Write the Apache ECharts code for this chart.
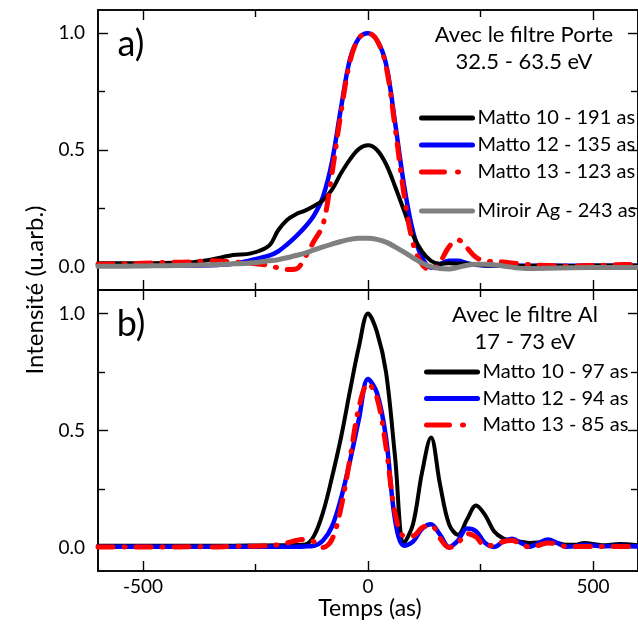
<!DOCTYPE html>
<html><head><meta charset="utf-8">
<script src="https://cdn.jsdelivr.net/npm/echarts@6/dist/echarts.min.js"></script>
<style>html,body{margin:0;padding:0;background:#fff}#c{width:638px;height:630px}</style>
</head><body><div id="c"></div>
<script>
// Panel a) time grid (as) and intensities
const tA = [-600,-550,-500,-450,-400,-350,-300,-260,-220,-200,-180,-160,-140,-120,-100,-80,-60,-40,-20,0,20,40,60,80,100,120,140,160,180,200,220,240,260,300,350,400,450,500,550,600];
const matto10A = [0.015,0.015,0.015,0.016,0.018,0.03,0.05,0.057,0.09,0.155,0.2,0.225,0.24,0.26,0.285,0.33,0.4,0.46,0.505,0.52,0.5,0.44,0.345,0.24,0.135,0.065,0.025,0.012,0.015,0.012,0.012,0.008,0.005,0.005,0.003,0.004,0.003,0.005,0.005,0.005];
const matto12A = [0.005,0.005,0.005,0.005,0.005,0.006,0.012,0.028,0.047,0.065,0.095,0.13,0.17,0.22,0.3,0.45,0.68,0.89,0.98,1.0,0.97,0.87,0.62,0.35,0.15,0.04,-0.005,0.01,0.025,0.025,0.015,0.008,0.005,0.005,0.004,0.004,0.004,0.004,0.004,0.004];
const matto13A = [0.01,0.012,0.015,0.018,0.02,0.025,0.02,0.015,0.005,-0.005,-0.012,-0.01,0.04,0.11,0.18,0.4,0.66,0.88,0.98,1.0,0.97,0.86,0.6,0.31,0.1,0.01,-0.015,0.02,0.085,0.115,0.08,0.04,0.025,0.02,0.01,0.005,0.003,0.005,0.008,0.01];
const miroirA = [0.002,0.002,0.003,0.004,0.006,0.008,0.012,0.016,0.025,0.03,0.038,0.048,0.058,0.072,0.085,0.097,0.108,0.117,0.122,0.122,0.117,0.105,0.085,0.062,0.038,0.016,0.0,-0.008,-0.01,-0.003,0.006,0.01,0.01,0.003,-0.008,-0.007,-0.005,-0.004,-0.004,-0.004];

// Panel b) time grid (as) and intensities
const tB = [-600,-550,-500,-450,-400,-350,-300,-250,-200,-180,-160,-140,-120,-100,-80,-60,-40,-20,0,20,40,60,80,100,120,140,160,180,200,220,240,260,280,300,320,340,360,380,400,420,440,460,480,520,560,600];
const matto10B = [0.008,0.008,0.008,0.008,0.008,0.008,0.008,0.009,0.01,0.01,0.011,0.013,0.05,0.15,0.3,0.47,0.67,0.86,1.0,0.92,0.75,0.39,0.02,0.1,0.32,0.47,0.27,0.1,0.055,0.12,0.18,0.14,0.07,0.04,0.03,0.025,0.02,0.022,0.025,0.02,0.012,0.012,0.02,0.01,0.015,0.01];
const matto12B = [0.004,0.004,0.004,0.004,0.004,0.004,0.004,0.004,0.004,0.004,0.004,0.005,0.008,0.03,0.09,0.21,0.37,0.55,0.72,0.66,0.47,0.12,0.008,0.025,0.08,0.1,0.055,0.003,0.03,0.082,0.07,0.02,0.003,0.025,0.038,0.02,0.004,0.02,0.034,0.02,0.004,0.006,0.012,0.006,0.008,0.005];
const matto13B = [0.002,0.003,0.002,0.002,0.004,0.003,0.005,0.006,0.012,0.02,0.03,0.035,0.025,0.0,0.035,0.17,0.38,0.6,0.7,0.64,0.43,0.15,0.05,0.05,0.085,0.095,0.04,0.0,0.02,0.06,0.045,0.008,0.01,0.025,0.03,0.015,0.002,0.01,0.02,0.015,0.005,0.005,0.005,0.005,0.005,0.005];

// Axis ticks / labels
const xMajor = [-500, 0, 500];
const xMinor = [-250, 250];
const yMajor = [0, 0.5, 1.0];
const yMinor = [0.25, 0.75];

const FONT = 'Lato';
const pair = (t, v) => t.map((x, i) => [x, v[i]]);

const grids = [
  {left: 98, top: 10, width: 542, height: 280},
  {left: 98, top: 290, width: 542, height: 281}
];
const AX = {lineStyle: {color: '#000', width: 1.6}};
const xAxes = [], yAxes = [];
grids.forEach((g, gi) => {
  [['bottom', xMajor, 10], ['bottom', xMinor, 7], ['top', xMajor, 10], ['top', xMinor, 7]].forEach(([pos, vals, len], k) => {
    xAxes.push({
      gridIndex: gi, type: 'value', min: -600, max: 600, position: pos,
      axisLine: {show: true, onZero: false, ...AX},
      axisTick: {show: true, inside: true, length: len, customValues: vals, lineStyle: {color: '#000', width: 1.4}},
      axisLabel: (gi === 1 && pos === 'bottom' && k === 0)
        ? {show: true, customValues: xMajor, fontFamily: FONT, fontSize: 19, color: '#000', margin: 6}
        : {show: false},
      splitLine: {show: false}
    });
  });
  [['left', yMajor, 10], ['left', yMinor, 7], ['right', yMajor, 10], ['right', yMinor, 7]].forEach(([pos, vals, len], k) => {
    yAxes.push({
      gridIndex: gi, type: 'value', min: -0.1, max: 1.1, position: pos,
      axisLine: {show: true, onZero: false, ...AX},
      axisTick: {show: true, inside: true, length: len, customValues: vals, lineStyle: {color: '#000', width: 1.4}},
      axisLabel: (pos === 'left' && k === 0)
        ? {show: true, customValues: yMajor, formatter: v => v.toFixed(1), fontFamily: FONT, fontSize: 19, color: '#000', margin: 13}
        : {show: false},
      splitLine: {show: false}
    });
  });
});

function line(name, gi, t, v, color, width, type, z) {
  return {
    name, type: 'line', xAxisIndex: gi * 4, yAxisIndex: gi * 4,
    data: pair(t, v), symbol: 'none', showSymbol: false, smooth: 0.35, z: z,
    lineStyle: {color, width, type: type || 'solid', cap: 'round', join: 'round'},
    itemStyle: {color}, emphasis: {disabled: true}
  };
}
const dashDot = [15, 11, 1, 11];
const legendDashDot = [23, 13, 1, 100];

const series = [
  line('Matto 12 - 135 as', 0, tA, matto12A, '#0000ff', 4.5, null, 2),
  line('Matto 10 - 191 as', 0, tA, matto10A, '#000000', 4, null, 3),
  line('Matto 13 - 123 as', 0, tA, matto13A, '#ff0000', 5, dashDot, 4),
  line('Miroir Ag - 243 as', 0, tA, miroirA, '#808080', 5, null, 5),
  line('Matto 10 - 97 as', 1, tB, matto10B, '#000000', 4, null, 2),
  line('Matto 12 - 94 as', 1, tB, matto12B, '#0000ff', 4.5, null, 3),
  line('Matto 13 - 85 as', 1, tB, matto13B, '#ff0000', 5, dashDot, 4)
];

const legendBase = {
  orient: 'vertical', itemWidth: 51, itemHeight: 20, padding: 0,
  selectedMode: false,
  itemStyle: {opacity: 0},
  lineStyle: {width: 5, cap: 'round'},
  textStyle: {fontFamily: FONT, fontSize: 20, color: '#000', lineHeight: 20}
};
const dashItem = name => ({name, lineStyle: {type: legendDashDot, width: 5, cap: 'round', color: '#ff0000'}});
const legends = [
  {...legendBase, left: 419, top: 108, itemGap: 7, data: ['Matto 10 - 191 as', 'Matto 12 - 135 as']},
  {...legendBase, left: 419, top: 162, data: [dashItem('Matto 13 - 123 as')]},
  {...legendBase, left: 419, top: 201, data: ['Miroir Ag - 243 as']},
  {...legendBase, left: 424, top: 362, itemGap: 6.5, data: ['Matto 10 - 97 as', 'Matto 12 - 94 as']},
  {...legendBase, left: 424, top: 415, data: [dashItem('Matto 13 - 85 as')]}
];

const txt = (x, y, s, size) => ({
  type: 'text', x, y, z: 100,
  style: {text: s, fontFamily: FONT, fontSize: size, fill: '#000', align: 'center', verticalAlign: 'middle'}
});

const chart = echarts.init(document.getElementById('c'), null, {renderer: 'canvas'});
chart.setOption({
  animation: false,
  backgroundColor: '#fff',
  grid: grids,
  xAxis: xAxes,
  yAxis: yAxes,
  legend: legends,
  series,
  graphic: [
    txt(131, 44, 'a)', 36),
    txt(131, 324, 'b)', 36),
    txt(524, 35, 'Avec le filtre Porte', 22),
    txt(524, 62, '32.5 - 63.5 eV', 22),
    txt(525, 315, 'Avec le filtre Al', 22),
    txt(525, 342, '17 - 73 eV', 22),
    txt(370, 609, 'Temps (as)', 23),
    {type: 'text', x: 35, y: 290, rotation: Math.PI / 2, z: 100,
     style: {text: 'Intensité (u.arb.)', fontFamily: FONT, fontSize: 24, fill: '#000', align: 'center', verticalAlign: 'middle'}}
  ]
});
</script>
</body></html>
